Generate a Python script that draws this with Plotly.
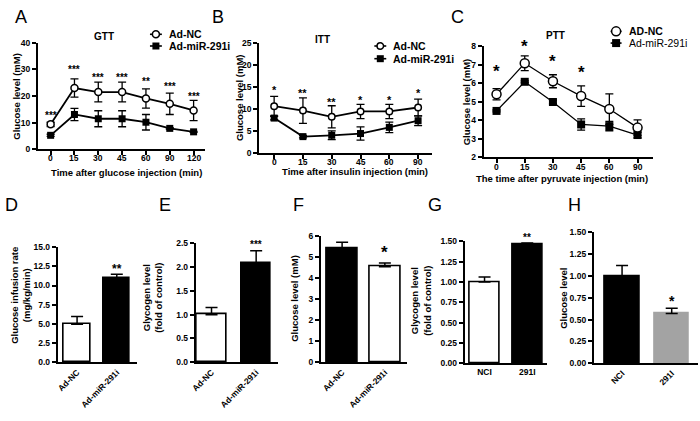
import plotly.graph_objects as go

W, H = 700, 421
def px(x): return x / W
def py(y): return 1 - y / H

FONT = 'Liberation Sans, Arial, sans-serif'

# ---------------- data ----------------
gtt_time = ['0', '15', '30', '45', '60', '90', '120']
gtt_nc = [9.4, 23.0, 21.5, 21.5, 19.1, 17.1, 14.6]
gtt_nc_err = [0.8, 3.4, 3.7, 3.7, 3.6, 4.0, 3.8]
gtt_mir = [5.3, 13.1, 11.5, 11.5, 10.2, 7.9, 6.6]
gtt_mir_err = [0.4, 2.3, 3.0, 3.0, 2.9, 0.3, 0.2]
gtt_sig = ['***', '***', '***', '***', '**', '***', '***']
gtt_sig_y = [13.0, 30.2, 27.4, 27.4, 25.7, 23.7, 20.1]

itt_time = ['0', '15', '30', '45', '60', '90']
itt_nc = [10.7, 9.7, 8.3, 9.5, 9.5, 10.4]
itt_nc_err = [2.2, 2.9, 2.5, 1.6, 1.6, 1.9]
itt_mir = [8.0, 3.8, 4.1, 4.5, 5.9, 7.4]
itt_mir_err = [0.4, 0.3, 1.0, 1.5, 1.2, 1.1]
itt_sig = ['*', '**', '**', '*', '*', '*']
itt_sig_y = [14.6, 13.9, 11.9, 12.3, 12.3, 13.9]

ptt_time = ['0', '15', '30', '45', '60', '90']
ptt_nc = [5.4, 7.07, 6.1, 5.3, 4.6, 3.6]
ptt_nc_err = [0.3, 0.4, 0.35, 0.55, 0.82, 0.42]
ptt_mir = [4.5, 6.07, 4.98, 3.77, 3.68, 3.2]
ptt_mir_err = [0.05, 0.05, 0.1, 0.3, 0.25, 0.15]
ptt_sig = ['*', '*', '*', '*']
ptt_sig_y = [6.7, 8.05, 7.25, 6.63]

groups_ad = ['Ad-NC', 'Ad-miR-291i']
groups_nci = ['NCI', '291I']

d_vals = [4.95, 10.95]; d_err = [1.0, 0.5]; d_sig = '**'; d_sig_y = 12.3
e_vals = [1.0, 2.08]; e_err = [0.15, 0.26]; e_sig = '***'; e_sig_y = 2.48
f_vals = [5.42, 4.55]; f_err = [0.3, 0.18]; f_sig = '*'; f_sig_y = 5.3
g_vals = [1.0, 1.46]; g_err = [0.06, 0.02]; g_sig = '**'; g_sig_y = 1.56
h_vals = [1.0, 0.57]; h_err = [0.12, 0.06]; h_sig = '*'; h_sig_y = 0.73

fig = go.Figure()
annotations = []
shapes = []

def ax_names(i):
    return ('xaxis' if i == 1 else f'xaxis{i}', 'yaxis' if i == 1 else f'yaxis{i}',
            'x' if i == 1 else f'x{i}', 'y' if i == 1 else f'y{i}')

tickfont = dict(family=FONT, size=8.5, color='black', weight='bold')

def setup_axes(i, xd, yd, xrange, yrange, dtick, tickformat=None,
               xticks=True, tickangle=0):
    xa, ya, xr, yr = ax_names(i)
    fig.layout[xa] = dict(domain=[px(xd[0]), px(xd[1])], range=xrange, type='category',
                          anchor=yr, showline=True, linecolor='black', linewidth=1.8,
                          showgrid=False, zeroline=False,
                          ticks='outside' if xticks else '', ticklen=4, tickwidth=1.5,
                          tickcolor='black', tickfont=tickfont, tickangle=tickangle,
                          showticklabels=not xticks,
                          fixedrange=True)
    fig.layout[ya] = dict(domain=[py(yd[1]), py(yd[0])], range=yrange, anchor=xr,
                          showline=True, linecolor='black', linewidth=1.8,
                          showgrid=False, zeroline=False, ticks='outside', ticklen=4,
                          tickwidth=1.5, tickcolor='black', tickfont=tickfont,
                          dtick=dtick, tick0=yrange[0], tickformat=tickformat,
                          fixedrange=True)
    return xr, yr

def star(xr, yr, xpos, yv, s, size, yd, yrange):
    # keep the anchor inside the axis range, shift the remainder in pixels
    ppu = (yd[1] - yd[0]) / (yrange[1] - yrange[0])
    ya = min(yv, yrange[1])
    extra = (yv - ya) * ppu
    annotations.append(dict(x=xpos, y=ya, xref=xr, yref=yr, text=s, showarrow=False,
                            font=dict(family=FONT, size=size, color='black',
                                      weight='bold'),
                            yanchor='middle', yshift=-0.08 * size + extra))

def line_panel(i, xd, yd, xrange, yrange, dtick, cats, nc, nce, mir, mire,
               sig, sig_y, sig_size, msize, lw, nc_size, lab_gap=9):
    xr, yr = setup_axes(i, xd, yd, xrange, yrange, dtick)
    fig.add_trace(go.Scatter(x=cats, y=mir, xaxis=xr, yaxis=yr, mode='lines+markers',
                             line=dict(color='black', width=lw),
                             marker=dict(symbol='square', size=msize, color='black'),
                             error_y=dict(type='data', array=mire, color='black',
                                          thickness=1.3, width=4),
                             showlegend=False, cliponaxis=False))
    fig.add_trace(go.Scatter(x=cats, y=nc, xaxis=xr, yaxis=yr, mode='lines+markers',
                             line=dict(color='black', width=lw),
                             marker=dict(symbol='circle', size=nc_size, color='white',
                                         line=dict(color='black', width=1.5)),
                             error_y=dict(type='data', array=nce, color='black',
                                          thickness=1.3, width=4),
                             showlegend=False, cliponaxis=False))
    for k, (s, yv) in enumerate(zip(sig, sig_y)):
        star(xr, yr, k, yv, s, sig_size, yd, yrange)
    # category tick labels placed close under the axis
    for k, c in enumerate(cats):
        annotations.append(dict(x=k, xref=xr, y=py(yd[1] + lab_gap), yref='paper',
                                text=c, showarrow=False, yanchor='middle',
                                font=tickfont))

def bar_panel(i, xd, yd, xrange, yrange, dtick, fmt, cats, vals, errs, colors,
              lcolors, width, sig, sig_y, sig_size, tickangle, cap):
    xr, yr = setup_axes(i, xd, yd, xrange, yrange, dtick, fmt, xticks=False,
                        tickangle=tickangle)
    fig.add_trace(go.Bar(x=cats, y=vals, xaxis=xr, yaxis=yr, width=width,
                         marker=dict(color=colors, line=dict(color=lcolors, width=1.6)),
                         error_y=dict(type='data', array=errs,
                                      arrayminus=[0] * len(errs), symmetric=False,
                                      color='black', thickness=1.5, width=cap),
                         showlegend=False))
    star(xr, yr, 1, sig_y, sig, sig_size, yd, yrange)

def text(x, y, s, size=9.5, angle=0, bold=True, xanchor='center', yanchor='middle'):
    annotations.append(dict(x=px(x), y=py(y), xref='paper', yref='paper', text=s,
                            showarrow=False, textangle=angle, xanchor=xanchor,
                            yanchor=yanchor,
                            font=dict(family=FONT, size=size, color='black',
                                      weight='bold' if bold else 'normal')))

def legend(x0, x1, ys, labels, sizes, bold_flags, tx, fsize):
    xc = (x0 + x1) / 2
    for k, (yy, lab) in enumerate(zip(ys, labels)):
        shapes.append(dict(type='line', xref='paper', yref='paper', x0=px(x0), x1=px(x1),
                           y0=py(yy), y1=py(yy), line=dict(color='black', width=1.6)))
        r = sizes[k] / 2
        if k == 0:
            shapes.append(dict(type='circle', xref='paper', yref='paper',
                               xsizemode='pixel', ysizemode='pixel',
                               xanchor=px(xc), yanchor=py(yy), x0=-r, x1=r, y0=-r, y1=r,
                               fillcolor='white', line=dict(color='black', width=1.5)))
        else:
            shapes.append(dict(type='rect', xref='paper', yref='paper',
                               xsizemode='pixel', ysizemode='pixel',
                               xanchor=px(xc), yanchor=py(yy), x0=-r, x1=r, y0=-r, y1=r,
                               fillcolor='black', line=dict(color='black', width=0)))
        text(tx, yy, lab, size=fsize, bold=bold_flags[k], xanchor='left')

# ---------------- panel A (GTT) ----------------
line_panel(1, (33, 201), (38.5, 148), [-0.54, 6.46], [0, 40], 10, gtt_time,
           gtt_nc, gtt_nc_err, gtt_mir, gtt_mir_err, gtt_sig, gtt_sig_y, 10, 7, 1.8, 7)
text(100, 32, 'GTT', size=10)
text(12, 93, 'Glucose level (mM)', angle=-90)
text(122, 172, 'Time after glucose injection (min)')
legend(146, 158, [30, 42], ['Ad-NC', 'Ad-miR-291i'], [7, 7], [True, True], 163, 10.5)

# ---------------- panel B (ITT) ----------------
line_panel(2, (256, 430), (39, 152), [-0.52, 5.48], [0, 25], 5, itt_time,
           itt_nc, itt_nc_err, itt_mir, itt_mir_err, itt_sig, itt_sig_y, 11, 7, 1.8, 6.5)
text(320, 35, 'ITT', size=10)
text(236, 95, 'Glucose level (mM)', angle=-90)
text(353, 171, 'Time after insulin injection (min)')
legend(372, 384, [42, 55], ['Ad-NC', 'Ad-miR-291i'], [6.5, 7], [True, True], 389, 10.5)

# ---------------- panel C (PTT) ----------------
line_panel(3, (482, 653), (42, 156), [-0.46, 5.56], [2, 8], 1, ptt_time,
           ptt_nc, ptt_nc_err, ptt_mir, ptt_mir_err, ptt_sig, ptt_sig_y, 17, 8, 1.3, 9,
           lab_gap=10)
text(554, 31, 'PTT', size=10)
text(465, 99, 'Glucose level (mM)', angle=-90)
text(561, 178, 'The time after pyruvate injection (min)')
legend(610, 621, [27, 39], ['AD-NC', 'Ad-miR-291i'], [9, 8], [True, False], 626, 10.5)

# ---------------- panel D ----------------
bar_panel(4, (53, 133), (248, 366), [-0.49, 1.51], [0, 15], 2.5, '.1f', groups_ad,
          d_vals, d_err, ['white', 'black'], ['black', 'black'], 0.67, d_sig, d_sig_y,
          12, -45, 6)
text(16, 297, 'Glucose infusion rate<br>(mg/kg/min)', size=9.5, angle=-90)

# ---------------- panel E ----------------
bar_panel(5, (192, 275), (244, 366), [-0.356, 1.49], [0, 2.5], 0.5, '.1f', groups_ad,
          e_vals, e_err, ['white', 'black'], ['black', 'black'], 0.67, e_sig, e_sig_y,
          10, -45, 6)
text(149, 300, 'Glycogen level<br>(fold of control)', angle=-90)

# ---------------- panel F ----------------
bar_panel(6, (318, 405), (237, 366), [-0.5, 1.52], [0, 6], 1, None, groups_ad,
          f_vals, f_err, ['black', 'white'], ['black', 'black'], 0.72, f_sig, f_sig_y,
          17, -45, 6)
text(292, 300, 'Glucose level (mM)', angle=-90)

# ---------------- panel G ----------------
bar_panel(7, (463, 546), (242, 367), [-0.465, 1.465], [0, 1.5], 0.25, '.2f', groups_nci,
          g_vals, g_err, ['white', 'black'], ['black', 'black'], 0.7, g_sig, g_sig_y,
          10, 0, 6)
text(419, 303, 'Glycogen level<br>(fold of control)', angle=-90)

# ---------------- panel H ----------------
bar_panel(8, (593, 698), (233, 367), [-0.57, 1.53], [0, 1.5], 0.25, '.2f', groups_nci,
          h_vals, h_err, ['black', '#a3a3a3'], ['black', '#a3a3a3'], 0.7, h_sig, h_sig_y,
          14, -45, 6)
text(563, 300, 'Glucose level', angle=-90)

# ---------------- panel letters ----------------
for letter, lx, ly in [('A', 16, 12), ('B', 215, 12), ('C', 456, 12),
                       ('D', 7, 205), ('E', 161, 205), ('F', 296, 205),
                       ('G', 433, 205), ('H', 574, 205)]:
    text(lx, ly, letter, size=18, bold=False)

fig.update_layout(width=W, height=H, margin=dict(l=0, r=0, t=0, b=0, pad=0),
                  paper_bgcolor='white', plot_bgcolor='rgba(0,0,0,0)',
                  annotations=annotations, shapes=shapes, showlegend=False,
                  bargap=0)
fig.write_html('out.html', config={'displayModeBar': False},
               post_script="document.body.style.margin='0';document.body.style.padding='0';")
